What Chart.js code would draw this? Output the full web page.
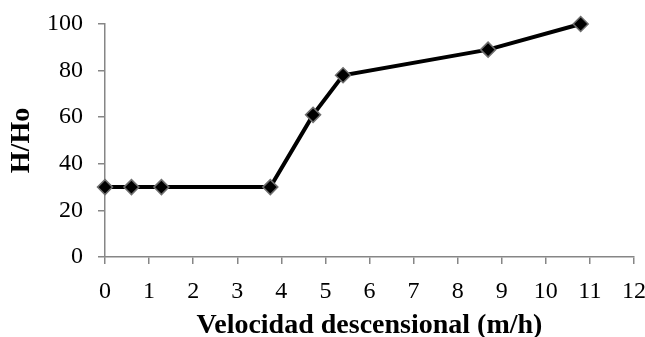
<!DOCTYPE html>
<html>
<head>
<meta charset="utf-8">
<script src="https://cdn.jsdelivr.net/npm/chart.js@4"></script>
<style>
  html, body { margin: 0; padding: 0; background: #fff; }
  #wrap { width: 645px; height: 337px; }
</style>
</head>
<body>
<div id="wrap"><canvas id="myCanvas" width="645" height="337"></canvas></div>
<script>
// velocidad descensional (m/h) y H/Ho (%)
const velocidad = [0, 0.6, 1.28, 3.75, 4.72, 5.4, 8.69, 10.79];
const alturaRel = [30, 30, 30, 30, 61, 78, 89, 100];
const ticksX = [0, 1, 2, 3, 4, 5, 6, 7, 8, 9, 10, 11, 12];
const ticksY = [0, 20, 40, 60, 80, 100];

const fuente = "'Liberation Serif', 'Times New Roman', serif";
const gris = '#868686';

let puntos = velocidad.map((v, i) => ({ x: v, y: alturaRel[i] }));

let canvas = document.getElementById('myCanvas');

window.chart = new Chart(canvas, {
  type: 'scatter',
  data: {
    datasets: [{
      data: puntos,
      showLine: true,
      clip: false,
      borderColor: '#000',
      borderWidth: 4,
      backgroundColor: '#000',
      pointStyle: 'rectRot',
      pointRadius: 7.5,
      pointBackgroundColor: '#000',
      pointBorderColor: '#6e6e6e',
      pointBorderWidth: 1.5,
      tension: 0
    }]
  },
  options: {
    responsive: false,
    animation: false,
    layout: { padding: { left: 0, right: 11, top: 24, bottom: 0 } },
    plugins: { legend: { display: false }, tooltip: { enabled: false } },
    scales: {
      x: {
        type: 'linear',
        min: 0,
        max: 12,
        afterBuildTicks: (s) => { s.ticks = ticksX.map(v => ({ value: v })); },
        afterFit: (s) => { s.height = 80; s.paddingLeft = 0; s.paddingRight = 0; },
        grid: { drawOnChartArea: false, color: gris, tickLength: 7, lineWidth: 1.5 },
        border: { color: gris, width: 1.5 },
        ticks: { color: '#000', padding: 13, maxRotation: 0, font: { family: fuente, size: 24 } },
        title: {
          display: true,
          text: 'Velocidad descensional (m/h)',
          color: '#000',
          padding: { top: 0, bottom: -6 },
          font: { family: fuente, size: 28, weight: 'bold' }
        }
      },
      y: {
        min: 0,
        max: 100,
        afterBuildTicks: (s) => { s.ticks = ticksY.map(v => ({ value: v })); },
        afterFit: (s) => { s.width = 105; s.paddingTop = 0; s.paddingBottom = 0; },
        grid: { drawOnChartArea: false, color: gris, tickLength: 7, lineWidth: 1.5 },
        border: { color: gris, width: 1.5 },
        ticks: { color: '#000', padding: 15, font: { family: fuente, size: 24 } },
        title: {
          display: true,
          text: 'H/Ho',
          color: '#000',
          padding: { top: 5, bottom: 0 },
          font: { family: fuente, size: 28, weight: 'bold' }
        }
      }
    }
  }
});
</script>
</body>
</html>
